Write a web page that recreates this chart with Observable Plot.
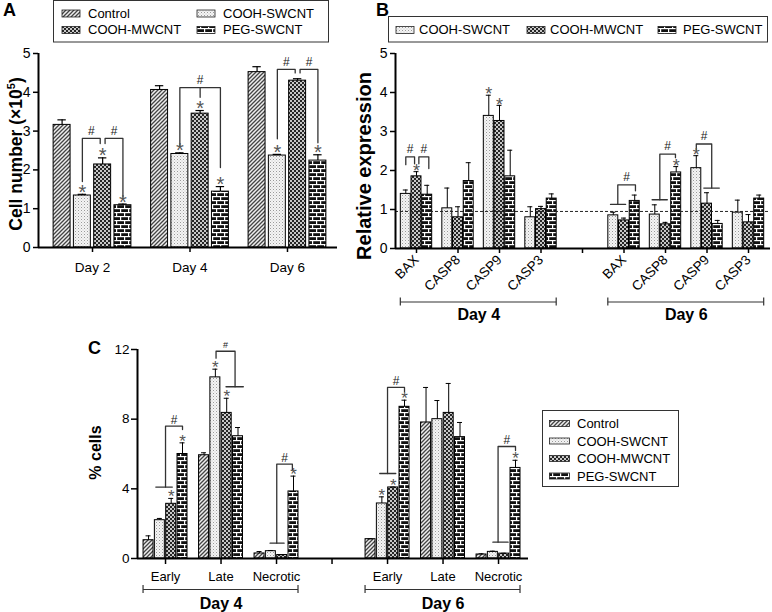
<!DOCTYPE html>
<html><head><meta charset="utf-8">
<script src="https://cdn.jsdelivr.net/npm/d3@7"></script>
<script src="https://cdn.jsdelivr.net/npm/@observablehq/plot@0.6"></script>
<style>
body{margin:0;background:#fff;}
#wrap{position:relative;width:772px;height:612px;overflow:hidden;background:#fff;}
#wrap svg{position:absolute;left:0;top:0;}
</style></head><body><div id="wrap"></div>
<script>
// ================= DATA =================
const seriesAll = ["Control", "COOH-SWCNT", "COOH-MWCNT", "PEG-SWCNT"];
const seriesB = ["COOH-SWCNT", "COOH-MWCNT", "PEG-SWCNT"];

// Panel A: cell number (x10^5), mean and SD per day
const daysA = ["Day 2", "Day 4", "Day 6"];
const aControl = [3.16, 4.06, 4.52];
const aControlSd = [0.13, 0.11, 0.14];
const aSw = [1.34, 2.41, 2.37];
const aSwSd = [0.03, 0.03, 0.03];
const aMw = [2.14, 3.45, 4.30];
const aMwSd = [0.17, 0.08, 0.05];
const aPeg = [1.09, 1.44, 2.24];
const aPegSd = [0.03, 0.13, 0.15];
const aStarControl = [0, 0, 0];
const aStarSw = [1, 1, 1];
const aStarMw = [1, 1, 0];
const aStarPeg = [1, 1, 1];
const aTicks = [0, 1, 2, 3, 4, 5];
// brackets: [category, from series, to series, from-leg y, to-leg y, top y]
const aBrackets = [[0, 1, 1.88, 1.7, 2.68, 2.81], [0, 2.12, 3, 2.68, 1.3, 2.81], [1, 1, 3, 2.63, 2.06, 4.12], [2, 1, 1.88, 2.8, 4.5, 4.59], [2, 2.12, 3, 4.5, 2.7, 4.59]];
const aStubs = [[1, 2, 4.12, 3.87]];

// Panel B: relative expression
const genesB = ["BAX", "CASP8", "CASP9", "CASP3"];
const daysB = ["Day 4", "Day 6"];
// order: Day 4 BAX, CASP8, CASP9, CASP3, Day 6 BAX, CASP8, CASP9, CASP3
const bSw = [1.40, 1.03, 3.40, 0.80, 0.85, 0.87, 2.06, 0.92];
const bSwSd = [0.10, 0.52, 0.53, 0.27, 0.08, 0.25, 0.32, 0.32];
const bMw = [1.85, 0.80, 3.27, 1.01, 0.72, 0.62, 1.15, 0.67];
const bMwSd = [0.12, 0.27, 0.40, 0.07, 0.06, 0.05, 0.28, 0.20];
const bPeg = [1.38, 1.73, 1.85, 1.28, 1.22, 1.95, 0.63, 1.28];
const bPegSd = [0.24, 0.47, 0.67, 0.12, 0.15, 0.15, 0.09, 0.09];
const bStarSw = [0, 0, 1, 0, 0, 0, 1, 0];
const bStarMw = [1, 0, 1, 0, 0, 0, 0, 0];
const bStarPeg = [0, 0, 0, 0, 0, 1, 0, 0];
const bTicks = [0, 1, 2, 3, 4, 5];
const bReference = 0.95;
const bBrackets = [[0, 0, 0.82, 2.15, 2.17, 2.35], [0, 1.22, 2.15, 2.17, 2.05, 2.35], [4, 0.42, 2.07, 1.13, 1.48, 1.63], [5, 0.47, 1.93, 1.25, 2.33, 2.42], [6, 0, 1.44, 2.52, 1.55, 2.68]];
const bSpans = [[4, -0.26, 1.15, 1.13], [5, -0.25, 1.17, 1.25], [6, 0.7, 2.15, 1.55]];

// Panel C: % cells
const stagesC = ["Early", "Late", "Necrotic"];
const daysC = ["Day 4", "Day 6"];
// order: Day 4 Early, Late, Necrotic, Day 6 Early, Late, Necrotic
const cControl = [1.05, 5.93, 0.29, 1.11, 7.81, 0.23];
const cControlSd = [0.25, 0.14, 0.11, 0.02, 2.01, 0.04];
const cSw = [2.20, 10.40, 0.42, 3.16, 8.00, 0.38];
const cSwSd = [0.10, 0.47, 0.04, 0.38, 1.07, 0.04];
const cMw = [3.14, 8.36, 0.20, 4.08, 8.36, 0.28];
const cMwSd = [0.31, 0.84, 0.02, 0.02, 1.69, 0.02];
const cPeg = [6.00, 7.02, 3.85, 8.71, 6.97, 5.20];
const cPegSd = [0.64, 0.50, 0.88, 0.38, 0.84, 0.44];
const cStarControl = [0, 0, 0, 0, 0, 0];
const cStarSw = [0, 1, 0, 1, 0, 0];
const cStarMw = [1, 1, 0, 1, 0, 0];
const cStarPeg = [1, 0, 1, 1, 0, 1];
const cTicks = [0, 4, 8, 12];
const cBrackets = [[0, 1.5, 3, 4.1, 7.4, 7.6], [1, 1.06, 2.74, 11.5, 9.86, 11.9, 9], [2, 1.52, 2.9, 0.88, 5.1, 5.42], [3, 1.5, 3, 4.88, 9.57, 9.82], [5, 1.46, 3, 0.94, 6.2, 6.43]];
const cSpans = [[0, 0.64, 2.1, 4.1], [1, 1.94, 3.47, 9.86], [2, 0.93, 2.17, 0.88], [3, 0.81, 2.23, 4.88], [5, 1.0, 2.35, 0.94]];

// ================= BUILD =================
const W = 772, H = 612;
const FONT = "'Liberation Sans', Arial, Helvetica, sans-serif";
const STYLE = `background:transparent;overflow:visible;font-family:${FONT};color:#000;`;
const patterns = ["url(#p-hatch)", "url(#p-dots)", "url(#p-check)", "url(#p-brick)"];
const colorOpt = {domain: seriesAll, range: patterns};
const intFmt = d => String(d);

function buildRows(names, means, sds, stars, posOf, slot) {
  const n = names.length, rows = [];
  means[0].forEach((_, c) => {
    names.forEach((s, si) => {
      rows.push({series: s, cat: c, si, x: posOf(c) + (si - (n - 1) / 2) * slot,
        mean: means[si][c], top: means[si][c] + sds[si][c], star: !!stars[si][c]});
    });
  });
  return rows;
}
function buildAnnot(brackets, spans, stubs, n, posOf, slot) {
  const sx = (c, s) => posOf(c) + (s - (n - 1) / 2) * slot;
  const pts = [], hashes = [];
  brackets.forEach(([c, a, b, ya, yb, top, fs], k) => {
    const xa = sx(c, a), xb = sx(c, b), id = "b" + k;
    pts.push({id, x: xa, y: ya}, {id, x: xa, y: top}, {id, x: xb, y: top}, {id, x: xb, y: yb});
    hashes.push({x: (xa + xb) / 2, y: top, fs: fs || null});
  });
  spans.forEach(([c, s1, s2, y], k) => {
    pts.push({id: "s" + k, x: sx(c, s1), y}, {id: "s" + k, x: sx(c, s2), y});
  });
  stubs.forEach(([c, s, y1, y2], k) => {
    pts.push({id: "t" + k, x: sx(c, s), y: y1}, {id: "t" + k, x: sx(c, s), y: y2});
  });
  return {pts, hashes};
}
function barMarks(rows, bw, cap, errW) {
  return [
    Plot.rect(rows, {x1: d => d.x - bw / 2, x2: d => d.x + bw / 2, y1: () => 0, y2: "mean", fill: "series", stroke: "#000", strokeWidth: 1}),
    Plot.ruleX(rows, {x: "x", y1: "mean", y2: "top", stroke: "#000", strokeWidth: errW}),
    Plot.ruleY(rows, {y: "top", x1: d => d.x - cap, x2: d => d.x + cap, stroke: "#000", strokeWidth: errW})
  ];
}

// ---------- Panel A ----------
const posA = c => c;
const slotA = 0.208, bwA = 0.174;
const rowsA = buildRows(seriesAll, [aControl, aSw, aMw, aPeg], [aControlSd, aSwSd, aMwSd, aPegSd],
  [aStarControl, aStarSw, aStarMw, aStarPeg], posA, slotA);
const annA = buildAnnot(aBrackets, [], aStubs, 4, posA, slotA);
const xDomA = [-0.554, 2.513];
const plotA = Plot.plot({
  width: W, height: H, marginLeft: 38, marginRight: W - 337, marginTop: 53, marginBottom: H - 247,
  x: {domain: xDomA, label: null}, y: {domain: [0, 5], label: null}, color: colorOpt, style: STYLE,
  marks: [
    ...barMarks(rowsA, bwA, 0.043, 1.2),
    Plot.line(annA.pts, {x: "x", y: "y", z: "id", stroke: "#333", strokeWidth: 1.3}),
    Plot.text(annA.hashes, {x: "x", y: "y", text: () => "#", fontSize: 12, dy: -7, fill: "#222"}),
    Plot.text(rowsA.filter(d => d.star), {x: "x", y: "top", text: () => "*", fontSize: 20, dy: -1.8, fill: "#555"}),
    Plot.ruleY([0], {strokeWidth: 2}),
    Plot.ruleX([xDomA[0]], {strokeWidth: 2}),
    Plot.axisY({ticks: aTicks, tickFormat: intFmt, tickSize: 5, tickPadding: 3, fontSize: 14, label: null, strokeWidth: 1.5}),
    Plot.axisX({ticks: [0, 1, 2], tickFormat: i => daysA[i], tickSize: 5, tickPadding: 10, fontSize: 13.5, label: null, strokeWidth: 1.5})
  ]
});

// ---------- Panel B ----------
const posB = c => (c < 4 ? c : c + 1);
const slotB = 0.258, bwB = 0.24;
const rowsB = buildRows(seriesB, [bSw, bMw, bPeg], [bSwSd, bMwSd, bPegSd], [bStarSw, bStarMw, bStarPeg], posB, slotB);
const annB = buildAnnot(bBrackets, bSpans, [], 3, posB, slotB);
const xDomB = [-0.506, 8.53];
const labelsB = [...genesB, "", ...genesB];
const dayBrB = daysB.map((d, k) => ({label: d, x1: posB(k * 4) - slotB - bwB / 2, x2: posB(k * 4 + 3) + slotB + bwB / 2}));
const dayEndsB = dayBrB.flatMap(d => [{x: d.x1}, {x: d.x2}]);
const plotB = Plot.plot({
  width: W, height: H, marginLeft: 395, marginRight: W - 770, marginTop: 53, marginBottom: H - 248,
  x: {domain: xDomB, label: null}, y: {domain: [0, 5], label: null}, color: colorOpt, style: STYLE,
  marks: [
    ...barMarks(rowsB, bwB, 0.06, 1),
    Plot.ruleY([bReference], {stroke: "#222", strokeWidth: 1, strokeDasharray: "3,2"}),
    Plot.line(annB.pts, {x: "x", y: "y", z: "id", stroke: "#333", strokeWidth: 1.3}),
    Plot.text(annB.hashes, {x: "x", y: "y", text: () => "#", fontSize: 12, dy: -8, fill: "#222"}),
    Plot.text(rowsB.filter(d => d.star), {x: "x", y: "top", text: () => "*", fontSize: 18, dy: -0.5, fill: "#555"}),
    Plot.ruleY([0], {strokeWidth: 2}),
    Plot.ruleX([xDomB[0]], {strokeWidth: 2}),
    Plot.axisY({ticks: bTicks, tickFormat: intFmt, tickSize: 5, tickPadding: 3, fontSize: 14, label: null, strokeWidth: 1.5}),
    Plot.axisX({ticks: d3.range(9), tickFormat: p => labelsB[p], tickSize: 5, tickPadding: 4, tickRotate: -45, fontSize: 13.5, label: null, strokeWidth: 1.5}),
    Plot.ruleY(dayBrB, {y: () => 0, x1: "x1", x2: "x2", dy: 53.5, stroke: "#333", strokeWidth: 1.2}),
    Plot.rect(dayEndsB, {x1: "x", x2: "x", y1: () => 0, y2: () => 0, insetLeft: -0.6, insetRight: -0.6, insetTop: -4, insetBottom: -4, dy: 53.5, fill: "#333"}),
    Plot.text(dayBrB, {x: d => (d.x1 + d.x2) / 2, y: () => 0, text: "label", dy: 66.5, fontSize: 16, fontWeight: "bold"})
  ]
});

// ---------- Panel C ----------
const posC = c => (c < 3 ? c : c + 1);
const slotC = 0.204, bwC = 0.18;
const rowsC = buildRows(seriesAll, [cControl, cSw, cMw, cPeg], [cControlSd, cSwSd, cMwSd, cPegSd],
  [cStarControl, cStarSw, cStarMw, cStarPeg], posC, slotC);
const annC = buildAnnot(cBrackets, cSpans, [], 4, posC, slotC);
const xDomC = [-0.505, 6.54];
const labelsC = [...stagesC, "", ...stagesC];
const dayBrC = daysC.map((d, k) => ({label: d, x1: posC(k * 3) - 1.5 * slotC - bwC / 2, x2: posC(k * 3 + 2) + 1.5 * slotC + bwC / 2}));
const dayEndsC = dayBrC.flatMap(d => [{x: d.x1}, {x: d.x2}]);
const plotC = Plot.plot({
  width: W, height: H, marginLeft: 137, marginRight: W - 528, marginTop: 349, marginBottom: H - 558,
  x: {domain: xDomC, label: null}, y: {domain: [0, 12], label: null}, color: colorOpt, style: STYLE,
  marks: [
    ...barMarks(rowsC, bwC, 0.045, 1),
    Plot.line(annC.pts, {x: "x", y: "y", z: "id", stroke: "#333", strokeWidth: 1.3}),
    Plot.text(annC.hashes, {x: "x", y: "y", text: () => "#", fontSize: d => d.fs || 12, dy: -6, fill: "#222"}),
    Plot.text(rowsC.filter(d => d.star), {x: "x", y: "top", text: () => "*", fontSize: 17, dy: -1.6, fill: "#555"}),
    Plot.ruleY([0], {strokeWidth: 2}),
    Plot.ruleX([xDomC[0]], {strokeWidth: 2}),
    Plot.axisY({ticks: cTicks, tickFormat: intFmt, tickSize: 6, tickPadding: 2, fontSize: 13.5, label: null, strokeWidth: 1.5}),
    Plot.axisX({ticks: d3.range(7), tickFormat: p => labelsC[p], tickSize: 6, tickPadding: 7, fontSize: 13, label: null, strokeWidth: 1.5}),
    Plot.ruleY(dayBrC, {y: () => 0, x1: "x1", x2: "x2", dy: 31, stroke: "#333", strokeWidth: 1.2}),
    Plot.rect(dayEndsC, {x1: "x", x2: "x", y1: () => 0, y2: () => 0, insetLeft: -0.6, insetRight: -0.6, insetTop: -4, insetBottom: -4, dy: 31, fill: "#333"}),
    Plot.text(dayBrC, {x: d => (d.x1 + d.x2) / 2, y: () => 0, text: "label", dy: 45, fontSize: 16, fontWeight: "bold"})
  ]
});

// ---------- overlay: patterns, titles, legends ----------
const ov = d3.create("svg").attr("width", W).attr("height", H).style("font-family", FONT).style("overflow", "visible");
ov.append("defs").html(`
<pattern id="p-hatch" patternUnits="userSpaceOnUse" width="4" height="4">
  <rect width="4" height="4" fill="#eeeeee"/>
  <path d="M-1,1 L1,-1 M0,4 L4,0 M3,5 L5,3" stroke="#444" stroke-width="1.3"/>
</pattern>
<pattern id="p-dots" patternUnits="userSpaceOnUse" width="3" height="3">
  <rect width="3" height="3" fill="#f4f4f4"/>
  <rect x="0" y="0" width="1" height="1" fill="#9a9a9a"/>
  <rect x="1.5" y="1.5" width="1" height="1" fill="#c4c4c4"/>
</pattern>
<pattern id="p-check" patternUnits="userSpaceOnUse" width="4" height="4">
  <rect width="4" height="4" fill="#c8c8c8"/>
  <rect width="2" height="2" fill="#262626"/>
  <rect x="2" y="2" width="2" height="2" fill="#262626"/>
</pattern>
<pattern id="p-brick" patternUnits="userSpaceOnUse" width="8" height="8">
  <rect width="8" height="8" fill="#111"/>
  <rect y="0" width="8" height="1.2" fill="#fff"/>
  <rect y="4" width="8" height="1.2" fill="#fff"/>
  <rect x="0" y="0" width="1.2" height="4" fill="#fff"/>
  <rect x="4" y="4" width="1.2" height="4" fill="#fff"/>
</pattern>`);

const patOf = s => patterns[seriesAll.indexOf(s)];
const txt = (x, y, s, size, weight) => ov.append("text").attr("x", x).attr("y", y).attr("font-size", size).attr("font-weight", weight || "normal").text(s);
// panel letters
txt(3, 16, "A", 18, "bold");
txt(376, 16, "B", 18, "bold");
txt(88, 354, "C", 18, "bold");
// y titles
const tA = ov.append("text").attr("transform", "translate(22,154) rotate(-90)").attr("text-anchor", "middle").attr("font-size", 17.5).attr("font-weight", "bold");
tA.append("tspan").text("Cell number (\u00d710");
tA.append("tspan").attr("dy", -7).attr("font-size", 11).text("5");
tA.append("tspan").attr("dy", 7).text(")");
ov.append("text").attr("transform", "translate(371,166) rotate(-90)").attr("text-anchor", "middle").attr("font-size", 20).attr("font-weight", "bold").text("Relative expression");
ov.append("text").attr("transform", "translate(100.5,452.5) rotate(-90)").attr("text-anchor", "middle").attr("font-size", 16).attr("font-weight", "bold").text("% cells");

function legend(box, items, sw) {
  ov.append("rect").attr("x", box[0]).attr("y", box[1]).attr("width", box[2]).attr("height", box[3]).attr("fill", "#fff").attr("stroke", "#333").attr("stroke-width", 1);
  items.forEach(([s, sx, sy, tx, ty]) => {
    ov.append("rect").attr("x", sx).attr("y", sy).attr("width", sw[0]).attr("height", sw[1]).attr("fill", patOf(s)).attr("stroke", "#222").attr("stroke-width", 0.8);
    txt(tx, ty, s, 13);
  });
}
legend([53.5, 0.5, 275, 41.5], [[seriesAll[0], 62, 10, 88, 18], [seriesAll[1], 197, 10, 223, 18], [seriesAll[2], 62, 26.5, 88, 34], [seriesAll[3], 197, 26.5, 223, 34]], [18, 7]);
legend([388.5, 16.5, 379, 25.5], [[seriesB[0], 396, 26.5, 419, 34], [seriesB[1], 527, 26.5, 550, 34], [seriesB[2], 658, 26.5, 683, 34]], [18, 7]);
legend([542.5, 410.5, 136, 76], seriesAll.map((s, i) => [s, 549.5, 420.5 + i * 17.5, 577, 428 + i * 17.5]), [20, 6]);

const wrap = document.getElementById("wrap");
wrap.append(plotA, plotB, plotC, ov.node());
</script></body></html>
